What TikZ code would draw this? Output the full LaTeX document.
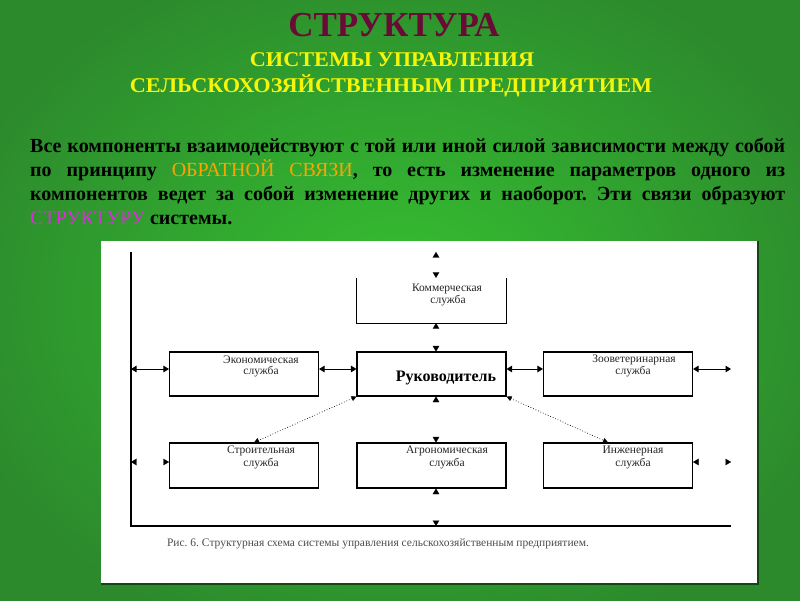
\documentclass[tikz,border=0pt]{standalone}
\usepackage{fontspec}
\setmainfont{Liberation Serif}
\usetikzlibrary{arrows.meta}
\definecolor{bgin}{RGB}{54,192,50}
\definecolor{bgout}{RGB}{44,138,44}
\definecolor{titlecol}{RGB}{105,10,55}
\definecolor{subcol}{RGB}{245,245,10}
\definecolor{orangecol}{RGB}{250,165,0}
\definecolor{magcol}{RGB}{225,40,225}
\definecolor{paneledge}{RGB}{20,70,20}
\begin{document}
\frenchspacing
\begin{tikzpicture}[x=1pt,y=-1pt,
  box/.style={draw=black, line width=1.1pt, minimum width=149pt, minimum height=45pt, inner sep=0pt},
  openbox/.style={minimum width=149pt, minimum height=45pt, inner sep=0pt},
  lbl/.style={font=\fontsize{11.5}{12}\selectfont, text=black!85, inner sep=0pt},
  dbl/.style={line width=1pt, {Triangle[width=6.5pt,length=5.5pt]}-{Triangle[width=6.5pt,length=5.5pt]}},
  ghost/.style={draw=white, line width=0.1pt, {Triangle[width=6.5pt,length=5.5pt,color=black,fill=black]}-{Triangle[width=6.5pt,length=5.5pt,color=black,fill=black]}},
  dots/.style={dotted, line width=0.7pt, {Triangle[width=5pt,length=5pt]}-{Triangle[width=5pt,length=5pt]}}
]
\useasboundingbox (0,0) rectangle (800,600);
\shade[inner color=bgin, outer color=bgout] (-60,-60) rectangle (860,660);

% titles
\node[anchor=base, inner sep=0pt, text=titlecol, font=\fontsize{35}{40}\selectfont\bfseries] (title) at (394,36) {СТРУКТУРА};
\node[anchor=base, inner sep=0pt, text=subcol, font=\fontsize{21}{24}\selectfont\bfseries] (sub1) at (392,66) {\scalebox{1.06}[1]{СИСТЕМЫ УПРАВЛЕНИЯ}};
\node[anchor=base, inner sep=0pt, text=subcol, font=\fontsize{21}{24}\selectfont\bfseries] (sub2) at (391,92) {\scalebox{1.06}[1]{СЕЛЬСКОХОЗЯЙСТВЕННЫМ ПРЕДПРИЯТИЕМ}};

% paragraph
\node[anchor=base west, inner sep=0pt, text width=755pt, align=justify,
      font=\fontsize{20}{24}\selectfont\bfseries] (para) at (30,152)
{Все компоненты взаимодействуют с той или иной силой зависимости между собой\linebreak
по принципу {\mdseries\color{orangecol}ОБРАТНОЙ СВЯЗИ}, то есть изменение параметров одного из\linebreak
компонентов ведет за собой изменение других и наоборот. Эти связи образуют\linebreak
{\mdseries\color{magcol}СТРУКТУРУ} системы.};

% white panel
\fill[white] (101,241) rectangle (758,584);
\draw[paneledge, line width=1.2pt] (101,584) -- (758,584) -- (758,241);

% frame coordinates
\coordinate (fTL) at (131,252);
\coordinate (fBL) at (131,526);
\coordinate (fBR) at (731,526);
\coordinate (top) at (436,252);
\coordinate (bot) at (436,526);
\coordinate (lA) at (131,369);
\coordinate (rA) at (731,369);
\coordinate (lB) at (131,462);
\coordinate (rB) at (731,462);
\draw[line width=1.1pt] (fTL) -- (fBL) -- (fBR);

% boxes
\node[openbox] (com) at (431.5,300.5) {};
\draw[line width=1.1pt] (com.north west) -- (com.south west) -- (com.south east) -- (com.north east);
\node[box, minimum height=44pt] (eco) at (244,374) {};
\node[box, minimum height=44pt] (ruk) at (431.5,374) {};
\node[box, minimum height=44pt] (zoo) at (618,374) {};
\node[box] (str) at (244,465.5) {};
\node[box] (agr) at (431.5,465.5) {};
\node[box] (ing) at (618,465.5) {};

% labels
\node[lbl] (comA) at (447,289) {Коммерческая};
\node[lbl] (comB) at (448,301) {служба};
\node[lbl] (ecoA) at (261,360) {Экономическая};
\node[lbl] (ecoB) at (261,372) {служба};
\node[lbl] (zooA) at (634,360) {Зооветеринарная};
\node[lbl] (zooB) at (633,372) {служба};
\node[inner sep=0pt, font=\fontsize{16}{18}\selectfont\bfseries] (rukA) at (446,378) {Руководитель};
\node[lbl] (strA) at (261,451) {Строительная};
\node[lbl] (strB) at (261,464) {служба};
\node[lbl] (agrA) at (447,451) {Агрономическая};
\node[lbl] (agrB) at (447,464) {служба};
\node[lbl] (ingA) at (633,451) {Инженерная};
\node[lbl] (ingB) at (633,464) {служба};

% horizontal arrows
\draw[dbl] (lA) -- (eco.west |- lA);
\draw[dbl] (eco.east |- lA) -- (ruk.west |- lA);
\draw[dbl] (ruk.east |- lA) -- (zoo.west |- lA);
\draw[dbl] (zoo.east |- lA) -- (rA);
\draw[ghost] (lB) -- (str.west |- lB);
\draw[ghost] (ing.east |- lB) -- (rB);

% vertical arrows (lines lost in scan)
\draw[ghost] (top) -- (top |- com.north);
\draw[ghost] (top |- com.south) -- (top |- ruk.north);
\draw[ghost] (top |- ruk.south) -- (top |- agr.north);
\draw[ghost] (top |- agr.south) -- (bot);

% dotted arrows
\draw[dots] (ruk.south west) -- ([xshift=10pt]str.north);
\draw[dots] (ruk.south east) -- ([xshift=-10pt]ing.north);

% caption
\node[inner sep=0pt, text=black!70, font=\fontsize{11.5}{13}\selectfont] (cap) at (378,544)
{Рис. 6. Структурная схема системы управления сельскохозяйственным предприятием.};
\end{tikzpicture}
\end{document}
